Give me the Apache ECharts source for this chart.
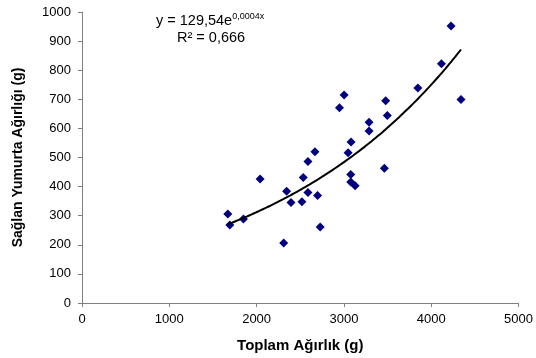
<!DOCTYPE html>
<html>
<head>
<meta charset="utf-8">
<script src="https://cdn.jsdelivr.net/npm/echarts@6/dist/echarts.min.js"></script>
<style>
  html, body { margin: 0; padding: 0; background: #fff; }
  #chart { width: 536px; height: 358px; }
</style>
</head>
<body>
<div id="chart"></div>
<script>
// Data
const totalWeight = [4227, 4117, 4341, 3847, 3002, 2949, 3478, 3497, 3288, 3288,
                     3082, 3048, 2668, 2588, 3463, 3078, 2534, 3078, 3128, 2344,
                     2588, 2698, 2394, 2519, 2728, 2310, 2040, 1670, 1693, 1849];
const eggWeight   = [952, 822, 699, 739, 715, 671, 695, 644, 621, 591,
                     553, 516, 520, 486, 463, 442, 431, 416, 403, 384,
                     380, 369, 345, 348, 261, 206, 426, 306, 268, 289];
const xTicks = [0, 1000, 2000, 3000, 4000, 5000];
const yTicks = [0, 100, 200, 300, 400, 500, 600, 700, 800, 900, 1000];
const xTitle = 'Toplam Ağırlık (g)';
const yTitle = 'Sağlan Yumurta Ağırlığı (g)';
const eqMain = 'y = 129,54e';
const eqExp = '0,0004x';
const eqR2 = 'R² = 0,666';

// Exponential trendline: least squares fit of ln(y) on x (as the spreadsheet does)
const n = totalWeight.length;
let sx = 0, sy = 0, sxx = 0, sxy = 0;
for (let i = 0; i < n; i++) {
  const lx = totalWeight[i], ly = Math.log(eggWeight[i]);
  sx += lx; sy += ly; sxx += lx * lx; sxy += lx * ly;
}
const b = (n * sxy - sx * sy) / (n * sxx - sx * sx);
const a = Math.exp((sy - b * sx) / n);
const xMin = Math.min(...totalWeight), xMax = Math.max(...totalWeight);
const trend = [];
for (let k = 0; k <= 60; k++) {
  const x = xMin + (xMax - xMin) * k / 60;
  trend.push([x, a * Math.exp(b * x)]);
}

const points = totalWeight.map((x, i) => [x, eggWeight[i]]);

const chart = echarts.init(document.getElementById('chart'), null, { renderer: 'canvas' });
const axisColor = '#808080';
const FONT = 'Liberation Sans, Arial';
chart.setOption({
  animation: false,
  backgroundColor: '#ffffff',
  grid: { left: 82, right: 16, top: 12, bottom: 55 },
  xAxis: {
    type: 'value', min: xTicks[0], max: xTicks[xTicks.length - 1], interval: 1000,
    name: xTitle, nameLocation: 'middle', nameGap: 35,
    nameTextStyle: { fontFamily: FONT, fontWeight: 'bold', fontSize: 15, color: '#000' },
    axisLine: { show: true, onZero: false, lineStyle: { color: axisColor, width: 1 } },
    axisTick: { show: true, inside: false, length: 4, lineStyle: { color: axisColor } },
    axisLabel: { fontFamily: FONT, fontSize: 13, color: '#000', margin: 10,
                 formatter: v => String(v) },
    splitLine: { show: false }
  },
  yAxis: {
    type: 'value', min: yTicks[0], max: yTicks[yTicks.length - 1], interval: 100,
    name: yTitle, nameLocation: 'middle', nameGap: 57, nameRotate: 90,
    nameTextStyle: { fontFamily: FONT, fontWeight: 'bold', fontSize: 14, color: '#000' },
    axisLine: { show: true, onZero: false, lineStyle: { color: axisColor, width: 1 } },
    axisTick: { show: true, inside: false, length: 4, lineStyle: { color: axisColor } },
    axisLabel: { fontFamily: FONT, fontSize: 13, color: '#000', margin: 11,
                 formatter: v => String(v) },
    splitLine: { show: false }
  },
  series: [
    {
      type: 'scatter', data: points, symbol: 'diamond', symbolSize: [9, 9],
      itemStyle: { color: '#000080', opacity: 1 }, z: 3
    },
    {
      type: 'line', data: trend, showSymbol: false, smooth: true,
      lineStyle: { color: '#000', width: 2 }, z: 4
    }
  ],
  graphic: [
    {
      type: 'text', left: 156, top: 12,
      style: {
        text: '{m|' + eqMain + '}{s|' + eqExp + '}',
        rich: {
          m: { fontFamily: FONT, fontSize: 14.5, fill: '#000', color: '#000' },
          s: { fontFamily: FONT, fontSize: 9, fill: '#000', color: '#000', verticalAlign: 'top', padding: [0, 0, 8, 0] }
        }
      }
    },
    {
      type: 'text', left: 177, top: 30,
      style: { text: eqR2, font: '14.5px "Liberation Sans", Arial', fill: '#000' }
    }
  ]
});
</script>
</body>
</html>
